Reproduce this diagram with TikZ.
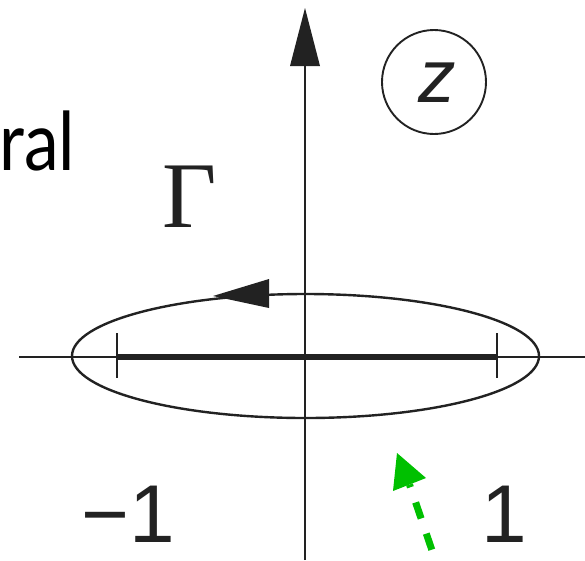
\documentclass[tikz,border=0pt]{standalone}
\usepackage{graphicx}
\usepackage{fontspec}
\setmainfont{Liberation Sans}
\newfontfamily\gillfont{Lato}
\newfontfamily\timesfont{Liberation Serif}
\definecolor{ink}{HTML}{222222}
\definecolor{grn}{HTML}{00C000}
\begin{document}
\begin{tikzpicture}[x=1pt,y=-1pt,
  axisline/.style={draw=ink,line width=2.6pt},
  contour/.style={draw=ink,line width=2.4pt},
  headfill/.style={fill=ink},
  lbl/.style={inner sep=0pt,text=ink},
  hint/.style={draw=grn,line width=7pt,dash pattern=on 17pt off 16pt,dash phase=20pt}]
\useasboundingbox (0,0) rectangle (585,560);
% axes
\coordinate (xl) at (19,357);
\coordinate (xr) at (585,357);
\coordinate (yb) at (305,560);
\coordinate (yt) at (305,62);
\draw[axisline] (xl) -- (xr);
\draw[axisline] (yb) -- (yt);
\coordinate (ytip) at (305,8);
\coordinate (ybl) at (290,66);
\coordinate (ybr) at (320,66);
\fill[headfill] (ytip) -- (ybl) -- (ybr) -- cycle;
% cut and ticks
\coordinate (cl) at (117,357);
\coordinate (cr) at (497,357);
\draw[draw=ink,line width=6.5pt] (cl) -- (cr);
\draw[draw=ink,line width=2.6pt] (117,333) -- (117,378);
\draw[draw=ink,line width=2.6pt] (497,333) -- (497,378);
% contour
\draw[contour] (305.5,356) ellipse [x radius=233.5, y radius=62];
\coordinate (etip) at (213,296);
\coordinate (eb1) at (269,279);
\coordinate (eb2) at (269,308);
\fill[headfill] (etip) -- (eb1) -- (eb2) -- cycle;
% labels
\node[lbl,font=\gillfont\fontsize{81}{81}\selectfont,anchor=base west,text=black] (ral) at (-1,170) {\scalebox{0.86}[1]{ral}};
\node[lbl,font=\timesfont\fontsize{94}{94}\selectfont,anchor=base] (gam) at (190,227) {Γ};
\node[circle,draw=ink,line width=1.9pt,minimum size=104pt,inner sep=0pt] (zc) at (434,82) {};
\node[lbl,font=\itshape\fontsize{75}{75}\selectfont,anchor=base] (zl) at (437,102) {z};
\node[lbl,font=\fontsize{82}{82}\selectfont,anchor=base east] (mone) at (175,542) {−1};
\node[lbl,font=\fontsize{82}{82}\selectfont,anchor=base west] (one) at (481,542) {1};
% green hint arrow
\coordinate (gtail) at (436,562);
\coordinate (gbase) at (409.5,484.5);
\coordinate (gtip) at (397,453);
\coordinate (gc1) at (393,491);
\coordinate (gc2) at (426,478);
\draw[hint] (gtail) -- (gbase);
\fill[grn] (gtip) -- (gc1) -- (gc2) -- cycle;
\end{tikzpicture}
\end{document}
